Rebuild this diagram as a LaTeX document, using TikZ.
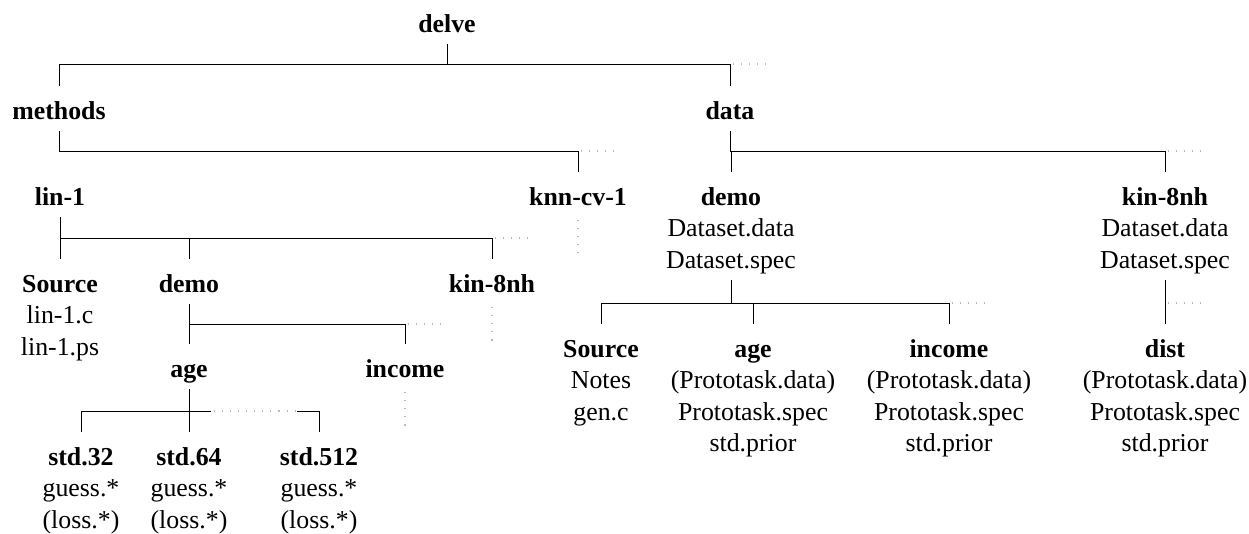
\documentclass[tikz,border=0pt]{standalone}
\usepackage{fontspec}
\setmainfont{Liberation Serif}
\newcommand{\ttl}[1]{\rule{0pt}{0.62cm}\textbf{#1}}
\tikzset{
  entry/.style={align=center, anchor=north, inner xsep=0pt, inner ysep=0.04cm,
    font=\fontsize{14.7}{17.9}\selectfont, execute at end node=\strut},
  more/.style={gray!55, line width=0.6pt, dash pattern=on 0.6pt off 4pt, dash phase=3pt},
}
\begin{document}
\begin{tikzpicture}[x=0.02cm, y=-0.02cm, line width=0.5pt]
    \useasboundingbox (0,0) rectangle (1249,534);
    \node[entry] (delve) at (447,-1) {\ttl{delve}};
    \node[entry] (methods) at (59,86) {\ttl{methods}};
    \node[entry] (data) at (730,86) {\ttl{data}};
    \node[entry] (lin1) at (60,172) {\ttl{lin-1}};
    \node[entry] (knncv) at (578,172) {\ttl{knn-cv-1}};
    \node[entry] (demoR) at (731,172) {\ttl{demo}\\Dataset.data\\Dataset.spec};
    \node[entry] (kinR) at (1165,172) {\ttl{kin-8nh}\\Dataset.data\\Dataset.spec};
    \node[entry] (srcL) at (60,259) {\ttl{Source}\\lin-1.c\\lin-1.ps};
    \node[entry] (demoL) at (189,259) {\ttl{demo}};
    \node[entry] (kinL) at (492,259) {\ttl{kin-8nh}};
    \node[entry] (srcR) at (601,324) {\ttl{Source}\\Notes\\gen.c};
    \node[entry] (ageR) at (753,324) {\ttl{age}\\(Prototask.data)\\Prototask.spec\\std.prior};
    \node[entry] (incR) at (949,324) {\ttl{income}\\(Prototask.data)\\Prototask.spec\\std.prior};
    \node[entry] (dist) at (1165,324) {\ttl{dist}\\(Prototask.data)\\Prototask.spec\\std.prior};
    \node[entry] (ageL) at (189,344) {\ttl{age}};
    \node[entry] (incL) at (405,344) {\ttl{income}};
    \node[entry] (std32) at (81,432) {\ttl{std.32}\\guess.*\\(loss.*)};
    \node[entry] (std64) at (189,432) {\ttl{std.64}\\guess.*\\(loss.*)};
    \node[entry] (std512) at (319,432) {\ttl{std.512}\\guess.*\\(loss.*)};
    % bars
    \coordinate (bar0) at (0,64);
    \coordinate (bar1) at (0,151);
    \coordinate (bar2) at (0,238);
    \coordinate (bar3) at (0,303);
    \coordinate (bar4) at (0,324);
    \coordinate (gapL) at (211,411);
    \coordinate (gapR) at (297,411);
    % delve
    \draw (delve.south) -- (delve.south |- bar0);
    \draw (methods.north) |- (data.north |- bar0) -- (data.north);
    \draw[more] (data.north |- bar0) -- ++(40,0);
    % methods and data
    \draw (methods.south) |- (knncv.north |- bar1) -- (knncv.north);
    \draw[more] (knncv.north |- bar1) -- ++(40,0);
    \draw (data.south) |- (kinR.north |- bar1) -- (kinR.north);
    \draw (demoR.north) -- (demoR.north |- bar1);
    \draw[more] (kinR.north |- bar1) -- ++(40,0);
    % lin-1
    \draw (lin1.south) -- (srcL.north);
    \draw (srcL.north |- bar2) -| (kinL.north);
    \draw (demoL.north) -- (demoL.north |- bar2);
    \draw[more] (kinL.north |- bar2) -- ++(38,0);
    \draw[more] (knncv.south) -- ++(0,36);
    % demo, kin-8nh (data)
    \draw (demoR.south) -- (demoR.south |- bar3);
    \draw (srcR.north) |- (incR.north |- bar3) -- (incR.north);
    \draw (ageR.north) -- (ageR.north |- bar3);
    \draw[more] (incR.north |- bar3) -- ++(38,0);
    \draw (kinR.south) -- (dist.north);
    \draw[more] (dist.north |- bar3) -- ++(38,0);
    % demo, kin-8nh (lin-1)
    \draw (demoL.south) -- (ageL.north);
    \draw (ageL.north |- bar4) -| (incL.north);
    \draw[more] (incL.north |- bar4) -- ++(38,0);
    \draw[more] (kinL.south) -- ++(0,37);
    \draw[more] (incL.south) -- ++(0,38);
    % age
    \draw (ageL.south) -- (std64.north);
    \draw (std32.north) |- (gapL);
    \draw[more] (gapL) -- (gapR);
    \draw (gapR) -| (std512.north);
\end{tikzpicture}
\end{document}
